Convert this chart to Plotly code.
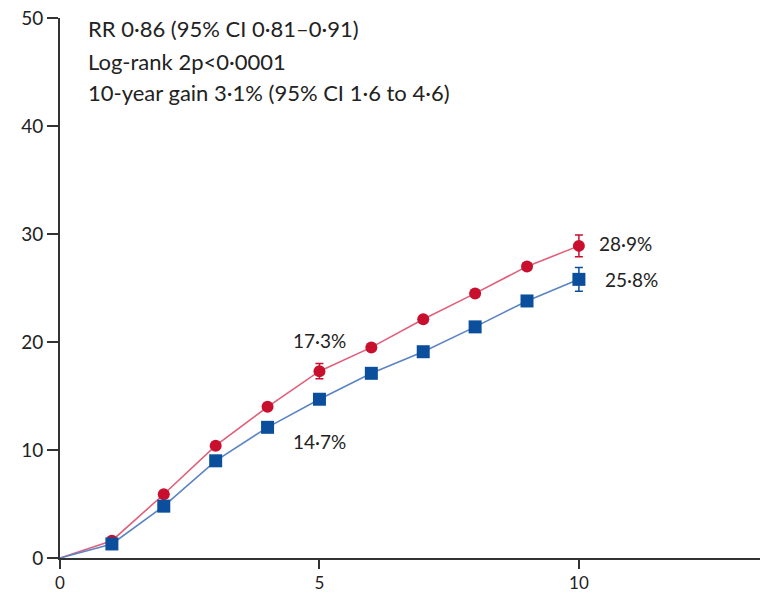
import plotly.graph_objects as go

years = [0, 1, 2, 3, 4, 5, 6, 7, 8, 9, 10]
control = [0, 1.6, 5.9, 10.4, 14.0, 17.3, 19.5, 22.1, 24.5, 27.0, 28.9]
control_err = [0, 0, 0, 0, 0, 0.7, 0, 0, 0, 0, 1.0]
treated = [0, 1.3, 4.8, 9.0, 12.1, 14.7, 17.1, 19.1, 21.4, 23.8, 25.8]
treated_err = [0, 0, 0, 0, 0, 0.4, 0, 0, 0, 0, 1.1]
stats_lines = ["RR 0·86 (95% CI 0·81–0·91)", "Log-rank 2p<0·0001",
               "10-year gain 3·1% (95% CI 1·6 to 4·6)"]
stats_y = [49.0, 46.0, 43.1]

RED = "#c8102e"
RED_LINE = "#e0607a"
BLUE = "#0b4f9c"
BLUE_LINE = "#5b84c4"
FONT = "Lato"

fig = go.Figure()
for ys, err, col, lcol, sym, sz in [
    (control, control_err, RED, RED_LINE, "circle", 12),
    (treated, treated_err, BLUE, BLUE_LINE, "square", 13),
]:
    fig.add_trace(go.Scatter(
        x=years, y=ys, mode="lines", line=dict(color=lcol, width=1.6),
        showlegend=False, hoverinfo="skip", cliponaxis=False))
    fig.add_trace(go.Scatter(
        x=years[1:], y=ys[1:], mode="markers",
        marker=dict(color=col, symbol=sym, size=sz),
        error_y=dict(type="data", array=err[1:], color=col, thickness=1.5, width=4),
        showlegend=False, cliponaxis=False))

for t, yv in zip(stats_lines, stats_y):
    fig.add_annotation(x=0, y=yv, xref="x", yref="y", xanchor="left", yanchor="middle",
                       xshift=26, showarrow=False, text=t,
                       font=dict(family=FONT, size=22, color="#222"))
labels = [
    (5, control[5], "17·3%", "center", 0, 31),
    (5, treated[5], "14·7%", "center", 0, -42),
    (10, control[10], "28·9%", "left", 18, 2),
    (10, treated[10], "25·8%", "left", 24, 0),
]
for x, y, t, xa, xs, ys_ in labels:
    fig.add_annotation(x=x, y=y, text=t, showarrow=False, xanchor=xa,
                       xshift=xs, yshift=ys_,
                       font=dict(family=FONT, size=19, color="#222"))

fig.update_layout(
    width=760, height=595, margin=dict(l=60, r=0, t=18, b=37),
    paper_bgcolor="white", plot_bgcolor="white",
    font=dict(family=FONT, size=19, color="#222"),
    xaxis=dict(range=[0, 13.49], tickvals=[0, 5, 10], showgrid=False,
               zeroline=False, showline=True, linecolor="#333", linewidth=2,
               ticks="outside", ticklen=9, tickwidth=1.5, tickcolor="#333",
               tickfont=dict(size=17), automargin=False),
    yaxis=dict(range=[0, 50], tickvals=[0, 10, 20, 30, 40, 50], showgrid=False,
               zeroline=False, showline=True, linecolor="#333", linewidth=2,
               ticks="outside", ticklen=11, tickwidth=1.5, tickcolor="#333",
               automargin=False),
)
fig.write_html("out.html")
